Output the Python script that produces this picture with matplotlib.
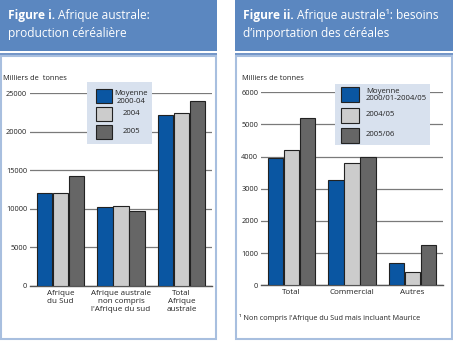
import numpy as np
import matplotlib.pyplot as plt
from matplotlib.patches import Rectangle

plt.rcParams['font.family'] = ['Open Sans', 'DejaVu Sans']

# données
cat_prod = ['Afrique\ndu Sud', 'Afrique australe\nnon compris\nl\'Afrique du sud', 'Total\nAfrique\naustrale']
prod_moy = [12000, 10200, 22200]
prod_2004 = [12000, 10400, 22400]
prod_2005 = [14200, 9700, 23900]
leg_prod = ['Moyenne\n2000-04', '2004', '2005']

cat_imp = ['Total', 'Commercial', 'Autres']
imp_moy = [3950, 3270, 700]
imp_0405 = [4200, 3800, 400]
imp_0506 = [5200, 3980, 1250]
leg_imp = ['Moyenne\n2000/01-2004/05', '2004/05', '2005/06']

colors = ['#0a56a2', '#cccccc', '#666666']
header_blue = '#5b87c0'
border_blue = '#a8bfdf'

W, H = 453, 341
fig = plt.figure(figsize=(W / 100, H / 100), dpi=100)


def box(x0, y0, x1, y1):
    # pixel coords (y down) -> figure fraction
    return [x0 / W, 1 - y1 / H, (x1 - x0) / W, (y1 - y0) / H]


def rect(x0, y0, x1, y1, zorder=-1, **kw):
    r = Rectangle((x0 / W, 1 - y1 / H), (x1 - x0) / W, (y1 - y0) / H,
                  transform=fig.transFigure, zorder=zorder, **kw)
    fig.patches.append(r)
    return r


def text(x, y, s, **kw):
    return fig.text(x / W, 1 - y / H, s, **kw)


# cadres
for x0, x1 in [(0, 217), (235, 453)]:
    rect(x0, 0, x1, 51, facecolor=header_blue, edgecolor='none')
    rect(x0, 53, x1, 56, facecolor='#7396c8', edgecolor='none')
    rect(x0 + 0.8, 56, x1 - 1.5, 338.5, facecolor='white', edgecolor=border_blue, linewidth=1.5)

renderer = fig.canvas.get_renderer()
tsize = 8.6


def title(x, y, bold, rest):
    t = text(x, y, bold, color='white', fontsize=tsize, fontweight='bold', va='baseline')
    bb = t.get_window_extent(renderer)
    text(bb.x1 + 3, y, rest, color='white', fontsize=tsize, va='baseline')


title(8, 19.5, 'Figure i.', 'Afrique australe:')
text(8, 36.5, 'production céréalière', color='white', fontsize=tsize, va='baseline')
title(243, 19.5, 'Figure ii.', 'Afrique australe\u00b9: besoins')
text(243, 36.5, 'd\u2019importation des céréales', color='white', fontsize=tsize, va='baseline')


def panel(ax_box, cats, series, ymax, step, ylab, ylabel_pos):
    ax = fig.add_axes(box(*ax_box))
    ax.set_zorder(2)
    x = np.arange(len(cats))
    w = 0.252
    for i, vals in enumerate(series):
        ax.bar(x + (i - 1) * (w + 0.012), vals, width=w, color=colors[i],
               edgecolor='#222222', linewidth=0.8, zorder=3)
    ax.set_xlim(-0.5, len(cats) - 0.5)
    ax.set_ylim(0, ymax)
    ax.set_yticks(np.arange(0, ymax + 1, step))
    ax.tick_params(axis='y', length=0, pad=2, labelsize=5.3, labelcolor='#222222')
    ax.tick_params(axis='x', length=0, pad=3, labelsize=5.8, labelcolor='#222222')
    ax.set_xticks(x)
    ax.set_xticklabels(cats, linespacing=1.2, va='top')
    ax.grid(axis='y', color='#7a7a7a', linewidth=0.9, zorder=0)
    for s in ['top', 'right', 'left']:
        ax.spines[s].set_visible(False)
    ax.spines['bottom'].set_color('#555555')
    ax.spines['bottom'].set_linewidth(1.0)
    ax.set_facecolor('none')
    text(ylabel_pos[0], ylabel_pos[1], ylab, fontsize=5.4, color='#222222', va='center')
    return ax


panel((30, 93, 212, 286), cat_prod, [prod_moy, prod_2004, prod_2005], 25000, 5000,
      'Milliers de  tonnes', (3, 79))
panel((261, 92.3, 443, 285.3), cat_imp, [imp_moy, imp_0405, imp_0506], 6000, 1000,
      'Milliers de tonnes', (242, 78))

# légendes
leg_bg = '#d8e1ee'
rect(87, 82, 152, 144, zorder=5, facecolor=leg_bg, edgecolor='none')
rows = [(89.5, 103.5), (106.5, 120.5), (124.5, 139)]
for (y0, y1), c, lab in zip(rows, colors, leg_prod):
    rect(96, y0, 112, y1, zorder=6, facecolor=c, edgecolor='#222222', linewidth=0.8)
    t = text(131, (y0 + y1) / 2 + (0 if '\n' not in lab else 1), lab, fontsize=5.6,
             color='#222222', ha='center', va='center', linespacing=1.15)
    t.set_zorder(7)

rect(335, 84, 430, 145, zorder=5, facecolor=leg_bg, edgecolor='none')
rows = [(87.5, 102.5), (107.5, 122.5), (127.5, 142.5)]
for (y0, y1), c, lab in zip(rows, colors, leg_imp):
    rect(341, y0, 358.5, y1, zorder=6, facecolor=c, edgecolor='#222222', linewidth=0.8)
    t = text(366, (y0 + y1) / 2, lab, fontsize=5.6, color='#222222',
             ha='left', va='center', linespacing=1.15)
    t.set_zorder(7)

text(239, 318, '\u00b9 Non compris l\'Afrique du Sud mais incluant Maurice',
     fontsize=5.25, color='#222222', va='center')

fig.savefig('out.png', dpi=100)
